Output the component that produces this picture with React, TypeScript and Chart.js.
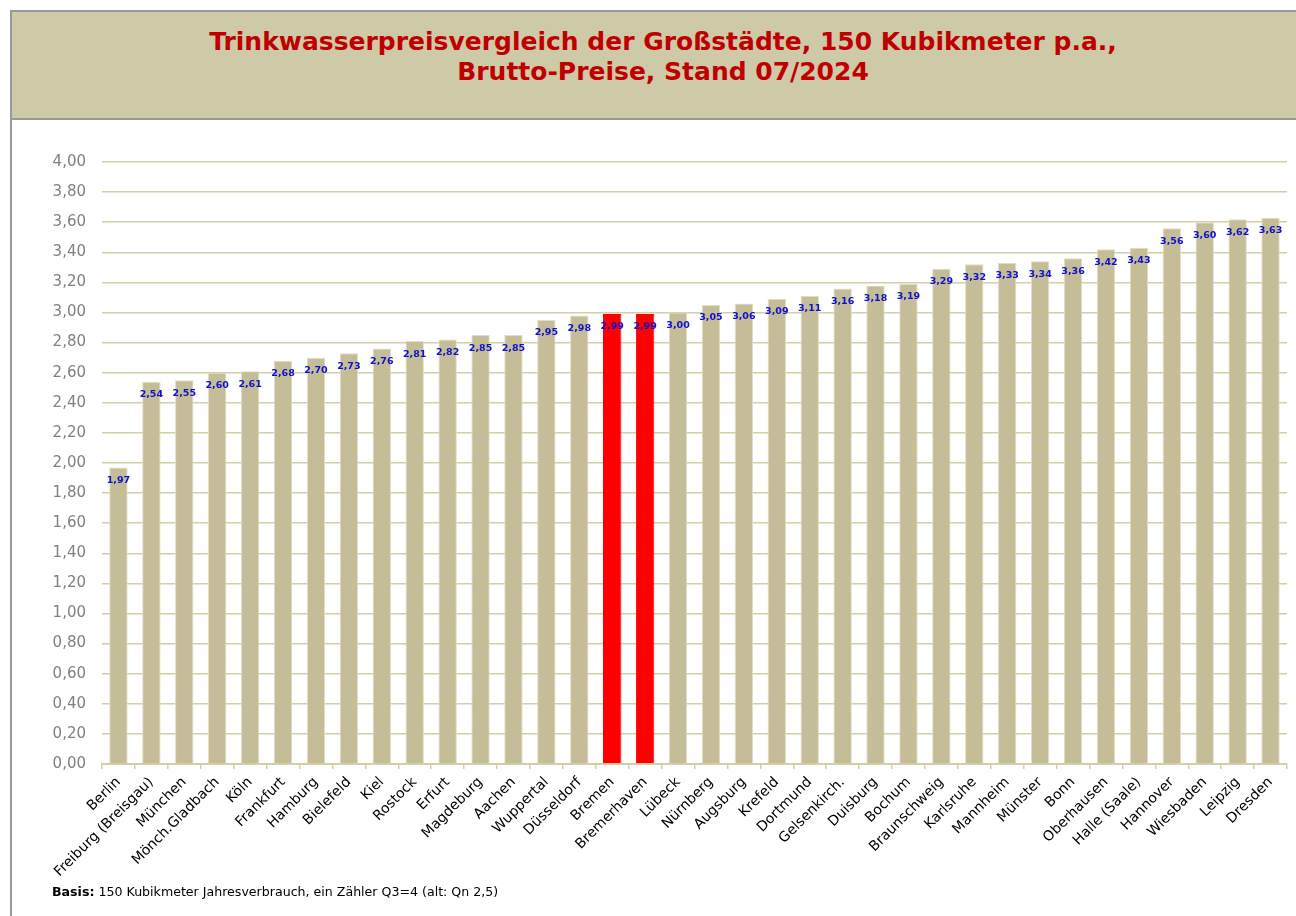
import React, { useEffect, useRef } from "react";
import { Chart, registerables } from "chart.js";

Chart.register(...registerables);

const cities: string[] = [
  "Berlin", "Freiburg (Breisgau)", "München", "Mönch.Gladbach", "Köln", "Frankfurt",
  "Hamburg", "Bielefeld", "Kiel", "Rostock", "Erfurt", "Magdeburg", "Aachen",
  "Wuppertal", "Düsseldorf", "Bremen", "Bremerhaven", "Lübeck", "Nürnberg",
  "Augsburg", "Krefeld", "Dortmund", "Gelsenkirch.", "Duisburg", "Bochum",
  "Braunschweig", "Karlsruhe", "Mannheim", "Münster", "Bonn", "Oberhausen",
  "Halle (Saale)", "Hannover", "Wiesbaden", "Leipzig", "Dresden",
];

const prices: number[] = [
  1.97, 2.54, 2.55, 2.6, 2.61, 2.68, 2.7, 2.73, 2.76, 2.81, 2.82, 2.85, 2.85,
  2.95, 2.98, 2.99, 2.99, 3.0, 3.05, 3.06, 3.09, 3.11, 3.16, 3.18, 3.19,
  3.29, 3.32, 3.33, 3.34, 3.36, 3.42, 3.43, 3.56, 3.6, 3.62, 3.63,
];

const highlighted: string[] = ["Bremen", "Bremerhaven"];

const titleLines: string[] = [
  "Trinkwasserpreisvergleich der Großstädte, 150 Kubikmeter p.a.,",
  "Brutto-Preise, Stand 07/2024",
];

const yMin = 0;
const yMax = 4;
const yStep = 0.2;

const FONT = "'DejaVu Sans', Verdana, sans-serif";
const fmt = (v: number) => v.toFixed(2).replace(".", ",");

const labelPlugin = {
  id: "barLabels",
  afterDatasetsDraw(chart: any) {
    const ctx = chart.ctx;
    const meta = chart.getDatasetMeta(0);
    ctx.save();
    ctx.font = `bold 9.5px ${FONT}`;
    ctx.fillStyle = "#1010CC";
    ctx.textAlign = "center";
    ctx.textBaseline = "middle";
    meta.data.forEach((bar: any, i: number) => {
      ctx.fillText(fmt(prices[i]), bar.x, bar.y + 13);
    });
    ctx.restore();
  },
};

export default function App() {
  const ref = useRef<HTMLCanvasElement | null>(null);

  useEffect(() => {
    if (!ref.current) return;
    const colors = cities.map((c) => (highlighted.includes(c) ? "#FF0000" : "#C4BD97"));
    const borders = cities.map((c) => (highlighted.includes(c) ? "#FF0000" : "#E2DEC6"));
    const chart = new Chart(ref.current, {
      type: "bar",
      data: {
        labels: cities,
        datasets: [
          {
            data: prices,
            backgroundColor: colors,
            borderColor: borders,
            borderWidth: 1,
            barPercentage: 0.56,
            categoryPercentage: 1,
          },
        ],
      },
      options: {
        responsive: false,
        animation: false,
        devicePixelRatio: 1,
        layout: { padding: { top: 162, right: 9, left: 0, bottom: 0 } },
        plugins: {
          legend: { display: false },
          tooltip: { enabled: false },
          title: { display: false },
        },
        scales: {
          x: {
            offset: true,
            grid: {
              display: true,
              drawOnChartArea: false,
              drawTicks: true,
              tickLength: 5,
              color: "#D3CFA8",
              lineWidth: 1.5,
              offset: true,
            },
            border: { display: true, color: "#D3CFA8", width: 2 },
            ticks: {
              autoSkip: false,
              minRotation: 45,
              maxRotation: 45,
              padding: 5,
              color: "#000000",
              font: { family: FONT, size: 14 },
            },
            afterFit: (scale: any) => {
              scale.height = 152;
            },
          },
          y: {
            min: yMin,
            max: yMax,
            grid: {
              color: "#D3CFA8",
              lineWidth: 1.5,
              drawTicks: false,
            },
            border: { display: false },
            ticks: {
              stepSize: yStep,
              padding: 16,
              color: "#808080",
              font: { family: FONT, size: 15 },
              callback: (v: any) => fmt(Number(v)),
            },
            afterFit: (scale: any) => {
              scale.width = 102;
            },
          },
        },
      },
      plugins: [labelPlugin],
    });
    return () => chart.destroy();
  }, []);

  return (
    <div
      style={{
        position: "absolute",
        left: 0,
        top: 0,
        width: 1296,
        height: 916,
        overflow: "hidden",
        background: "#FFFFFF",
        fontFamily: FONT,
      }}
    >
      <div
        style={{
          position: "absolute",
          left: 10,
          top: 10,
          width: 1302,
          height: 106,
          background: "#CECAA7",
          border: "2px solid #999999",
          boxSizing: "content-box",
        }}
      >
        <div
          style={{
            position: "absolute",
            left: 0,
            right: 0,
            top: 15,
            textAlign: "center",
            color: "#C00000",
            fontWeight: "bold",
            fontSize: 25,
            lineHeight: "30px",
          }}
        >
          {titleLines.map((t) => (
            <div key={t}>{t}</div>
          ))}
        </div>
      </div>
      <div
        style={{
          position: "absolute",
          left: 10,
          top: 118,
          width: 0,
          height: 800,
          borderLeft: "2px solid #999999",
        }}
      />
      <canvas
        ref={ref}
        width={1296}
        height={916}
        style={{ position: "absolute", left: 0, top: 0, width: 1296, height: 916 }}
      />
      <div
        style={{
          position: "absolute",
          left: 52,
          top: 884,
          fontSize: 12.6,
          color: "#000000",
        }}
      >
        <b>Basis:</b> 150 Kubikmeter Jahresverbrauch, ein Zähler Q3=4 (alt: Qn 2,5)
      </div>
    </div>
  );
}
